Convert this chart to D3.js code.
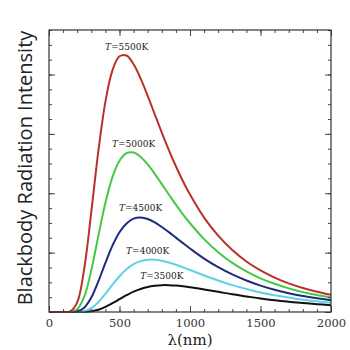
<!DOCTYPE html>
<html>
<head>
<meta charset="utf-8">
<script src="https://cdn.jsdelivr.net/npm/d3@7"></script>
<style>
  html, body { margin: 0; padding: 0; background: #fff; }
  svg { display: block; }
</style>
</head>
<body>
<svg id="chart" width="350" height="350"></svg>
<script>
// Wavelength samples (nm) shared by every curve
const wavelengths = [0, 50, 100, 150, 200, 250, 300, 350, 400, 450, 500, 550, 600, 650, 700, 750, 800, 850, 900, 950, 1000, 1100, 1200, 1300, 1400, 1500, 1600, 1700, 1800, 1900, 2000];

// Spectral intensity (arbitrary units) for each temperature
const intensity5500 = [0, 0, 0, 0.04, 0.65, 2.93, 6.74, 10.84, 14.16, 16.28, 17.23, 17.28, 16.69, 15.72, 14.56, 13.32, 12.09, 10.91, 9.82, 8.81, 7.91, 6.36, 5.14, 4.17, 3.40, 2.80, 2.32, 1.93, 1.62, 1.37, 1.16];
const intensity5000 = [0, 0, 0, 0.01, 0.18, 1.03, 2.82, 5.13, 7.36, 9.09, 10.19, 10.70, 10.74, 10.45, 9.94, 9.31, 8.62, 7.92, 7.23, 6.58, 5.98, 4.91, 4.03, 3.31, 2.74, 2.27, 1.90, 1.59, 1.34, 1.14, 0.97];
const intensity4500 = [0, 0, 0, 0, 0.04, 0.29, 0.97, 2.06, 3.31, 4.47, 5.37, 5.97, 6.29, 6.37, 6.27, 6.04, 5.73, 5.38, 5.01, 4.64, 4.28, 3.60, 3.02, 2.53, 2.12, 1.78, 1.50, 1.27, 1.08, 0.93, 0.79];
const intensity4000 = [0, 0, 0, 0, 0.01, 0.06, 0.26, 0.66, 1.22, 1.84, 2.41, 2.88, 3.22, 3.43, 3.52, 3.52, 3.45, 3.33, 3.18, 3.01, 2.83, 2.46, 2.12, 1.81, 1.55, 1.32, 1.13, 0.97, 0.83, 0.72, 0.62];
const intensity3500 = [0, 0, 0, 0, 0, 0.01, 0.05, 0.15, 0.34, 0.59, 0.86, 1.13, 1.37, 1.55, 1.69, 1.77, 1.81, 1.81, 1.78, 1.73, 1.67, 1.52, 1.36, 1.19, 1.05, 0.91, 0.79, 0.69, 0.60, 0.53, 0.46];

const temperatures = ["3500", "4000", "4500", "5000", "5500"];
const seriesValues = [intensity3500, intensity4000, intensity4500, intensity5000, intensity5500];
const seriesColors = ["#111111", "#5fd3e3", "#1f2a7a", "#44c944", "#b8322c"];

// Axis tick values
const xMajorTicks = [0, 500, 1000, 1500, 2000];
const xMinorTicks = d3.range(0, 2001, 100);
const yMajorTicks = [0, 4, 8, 12, 16];
const yMinorTicks = d3.range(0, 20, 1);

const xTitle = "λ(nm)";
const yTitle = "Blackbody Radiation Intensity";

const svg = d3.select("#chart");
const L = 49, R = 331, T = 30, B = 312;

const x = d3.scaleLinear().domain([0, 2000]).range([L, R]);
const y = d3.scaleLinear().domain([0, 19]).range([B, T]);

// Curves
const line = d3.line()
  .x(d => x(d[0]))
  .y(d => Math.min(y(d[1]), B))
  .curve(d3.curveCatmullRom.alpha(0.5));

const series = temperatures.map((t, i) => ({
  t,
  color: seriesColors[i],
  points: wavelengths.map((w, j) => [w, seriesValues[i][j]])
}));

svg.append("g")
  .selectAll("path")
  .data(series)
  .join("path")
  .attr("d", d => line(d.points))
  .attr("fill", "none")
  .attr("stroke", d => d.color)
  .attr("stroke-width", 2)
  .attr("stroke-linejoin", "round");

// Temperature labels above each peak
const labels = svg.append("g")
  .attr("font-family", "'DejaVu Serif', serif")
  .attr("font-size", 9)
  .attr("fill", "#222")
  .attr("text-anchor", "middle");

series.forEach(s => {
  const peak = s.points.reduce((a, b) => (b[1] > a[1] ? b : a));
  const txt = labels.append("text")
    .attr("x", x(peak[0]))
    .attr("y", y(peak[1]) - 6);
  txt.append("tspan").attr("font-style", "italic").text("T");
  txt.append("tspan").text("=" + s.t + "K");
});

// Axes with inward ticks on all four sides
const tickStroke = "#444";
function styleAxis(g) {
  g.select(".domain").remove();
  g.selectAll(".tick line").attr("stroke", tickStroke).attr("stroke-width", 1);
}

svg.append("g").attr("transform", `translate(0,${B})`)
  .call(d3.axisBottom(x).tickValues(xMinorTicks).tickSize(-3).tickFormat(""))
  .call(styleAxis);
svg.append("g").attr("transform", `translate(0,${B})`)
  .call(d3.axisBottom(x).tickValues(xMajorTicks).tickSize(-6).tickPadding(7).tickFormat(d3.format("d")))
  .call(styleAxis)
  .call(g => g.selectAll("text")
    .attr("font-family", "'DejaVu Serif', serif")
    .attr("font-size", 11.5)
    .attr("fill", "#333"));

svg.append("g").attr("transform", `translate(0,${T})`)
  .call(d3.axisTop(x).tickValues(xMinorTicks).tickSize(-3).tickFormat(""))
  .call(styleAxis);
svg.append("g").attr("transform", `translate(0,${T})`)
  .call(d3.axisTop(x).tickValues(xMajorTicks).tickSize(-6).tickFormat(""))
  .call(styleAxis);

svg.append("g").attr("transform", `translate(${L},0)`)
  .call(d3.axisLeft(y).tickValues(yMinorTicks).tickSize(-3).tickFormat(""))
  .call(styleAxis);
svg.append("g").attr("transform", `translate(${L},0)`)
  .call(d3.axisLeft(y).tickValues(yMajorTicks).tickSize(-6).tickFormat(""))
  .call(styleAxis);

svg.append("g").attr("transform", `translate(${R},0)`)
  .call(d3.axisRight(y).tickValues(yMinorTicks).tickSize(-3).tickFormat(""))
  .call(styleAxis);
svg.append("g").attr("transform", `translate(${R},0)`)
  .call(d3.axisRight(y).tickValues(yMajorTicks).tickSize(-6).tickFormat(""))
  .call(styleAxis);

// Plot frame
svg.append("rect")
  .attr("x", L).attr("y", T)
  .attr("width", R - L).attr("height", B - T)
  .attr("fill", "none")
  .attr("stroke", "#333")
  .attr("stroke-width", 1.2);

// Axis titles
svg.append("text")
  .attr("x", (L + R) / 2)
  .attr("y", 345)
  .attr("text-anchor", "middle")
  .attr("font-family", "'DejaVu Serif', serif")
  .attr("font-size", 15)
  .attr("fill", "#222")
  .text(xTitle);

svg.append("text")
  .attr("transform", `translate(32,${(T + B) / 2 - 3}) rotate(-90)`)
  .attr("text-anchor", "middle")
  .attr("font-family", "'Open Sans', sans-serif")
  .attr("font-size", 20)
  .attr("fill", "#222")
  .text(yTitle);
</script>
</body>
</html>
